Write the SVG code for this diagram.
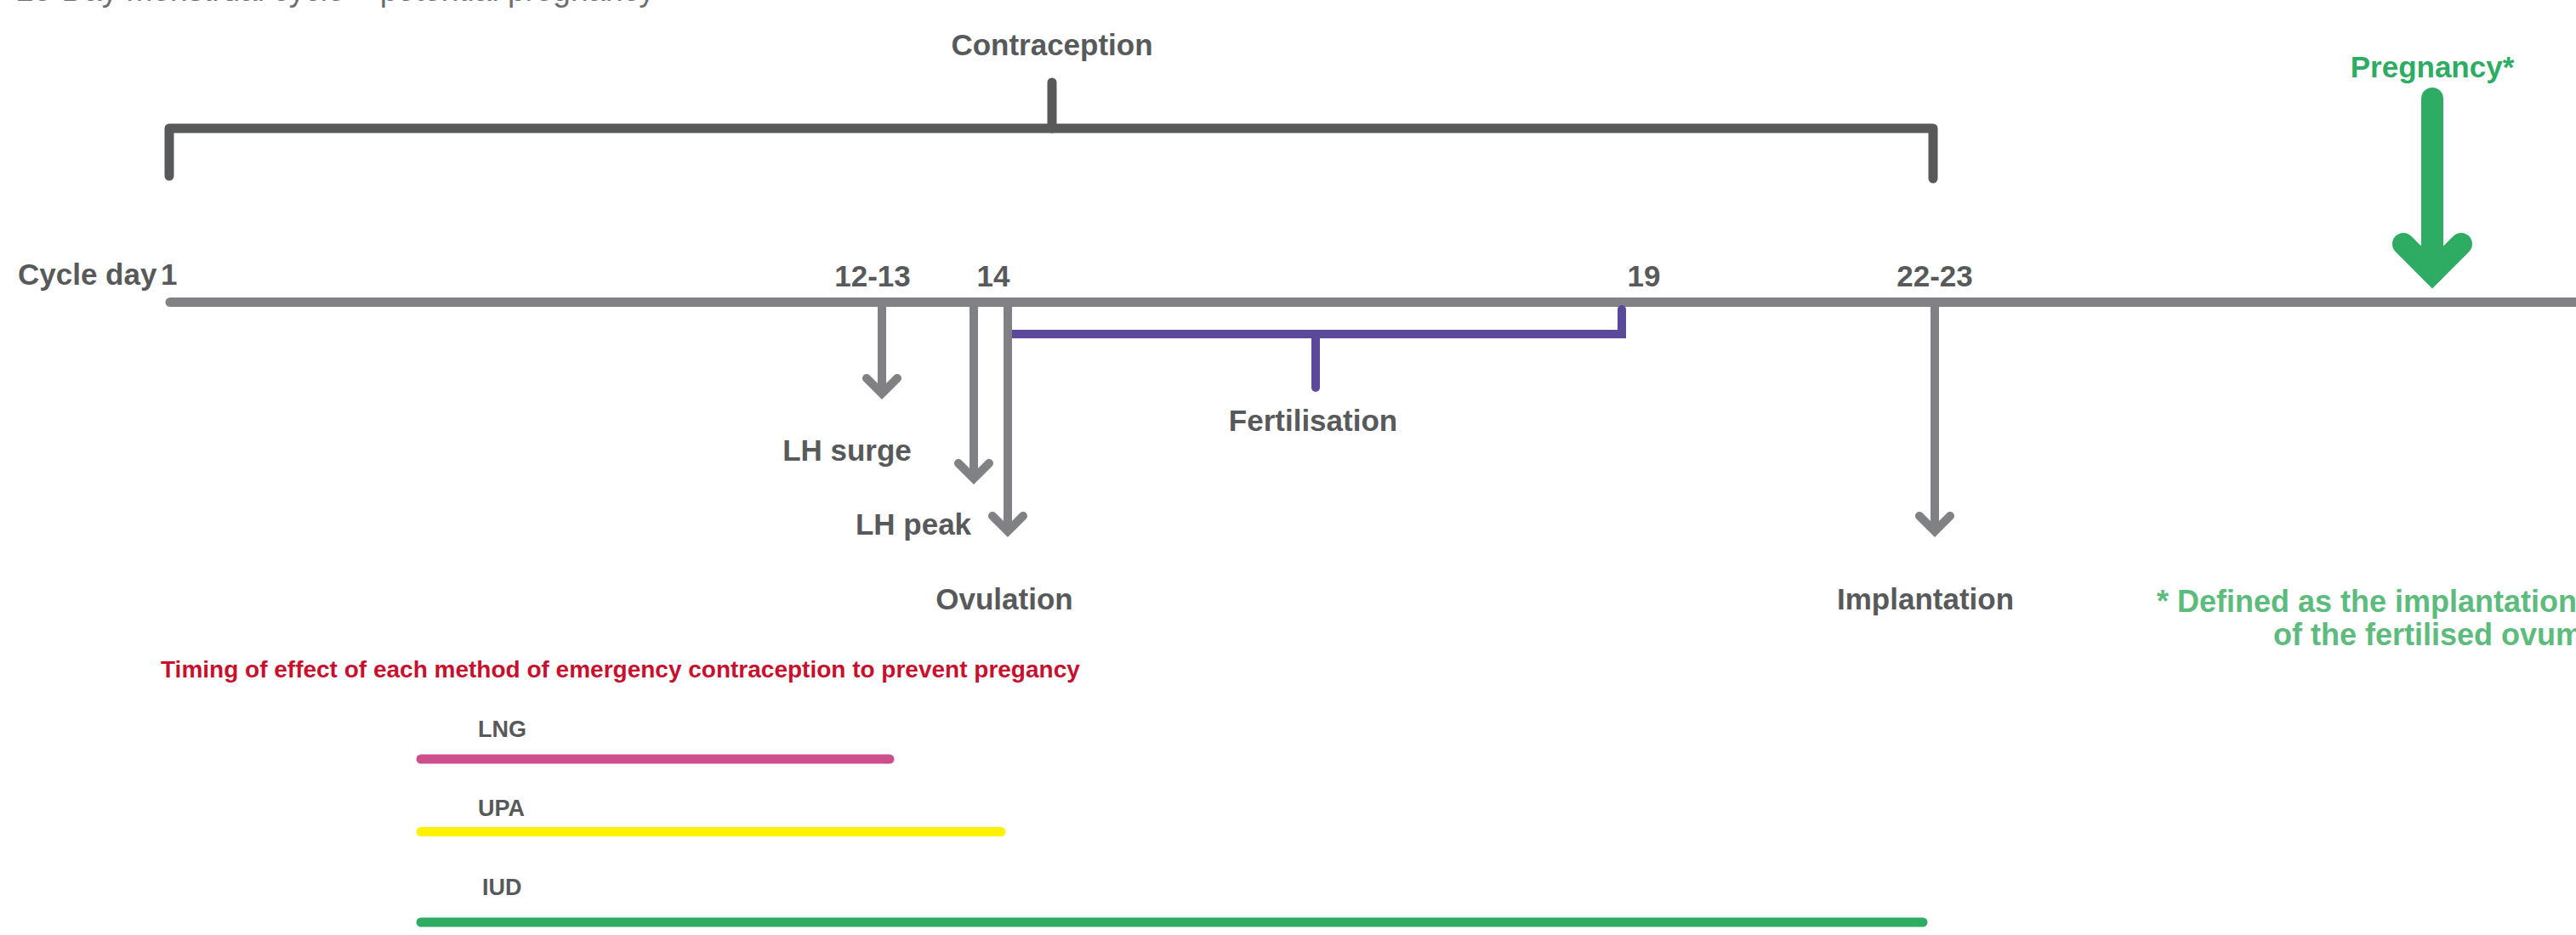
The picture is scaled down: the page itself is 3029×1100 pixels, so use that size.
<svg xmlns="http://www.w3.org/2000/svg" xmlns:xlink="http://www.w3.org/1999/xlink" width="3029" height="1100" viewBox="0 0 3029 1100">
<style>
.t{font-family:"Liberation Sans",Arial,sans-serif;font-weight:bold;font-size:35px;fill:#58595b}
.m{text-anchor:middle}
.g{fill:none;stroke:#808184;stroke-width:10;stroke-linecap:butt}
.gh{fill:none;stroke:#808184;stroke-width:10;stroke-linecap:round;stroke-linejoin:miter}
.br{fill:none;stroke:#58595b;stroke-width:11;stroke-linecap:round;stroke-linejoin:round}
.pu{fill:none;stroke:#5b4899;stroke-width:10;stroke-linecap:round;stroke-linejoin:miter}
.bar{fill:none;stroke-width:11;stroke-linecap:round}
</style>
<defs>
<path id="gh" class="gh" d="M-18,-18 L0,0 L18,-18"/>
</defs>
<rect width="3029" height="1100" fill="#ffffff"/>
<text x="19" y="1" style="font-family:'Liberation Sans',Arial,sans-serif;font-size:37px;fill:#6d6e71">28-Day menstrual cycle – potential pregnancy</text>

<g id="connectors">
  <path id="timeline" d="M200,355.5 H3045" fill="none" stroke="#818285" stroke-width="11" stroke-linecap="round"/>
  <path id="contraception-bracket" class="br" d="M199,207 V151 H2273 V210"/>
  <path class="br" d="M1237,97 V151" stroke-width="10"/>
  <path id="fertilisation-bracket" class="pu" d="M1907,364 V393 H1188"/>
  <path class="pu" d="M1547,393 V456" stroke-width="8"/>
  <g id="arrow-lh-surge"><path class="g" d="M1037,361 V463"/><use xlink:href="#gh" href="#gh" x="1037" y="463"/></g>
  <g id="arrow-lh-peak"><path class="g" d="M1145,361 V563"/><use xlink:href="#gh" href="#gh" x="1145" y="563"/></g>
  <g id="arrow-ovulation"><path class="g" d="M1185,361 V625"/><use xlink:href="#gh" href="#gh" x="1185" y="625"/></g>
  <g id="arrow-implantation"><path class="g" d="M2275,361 V625"/><use xlink:href="#gh" href="#gh" x="2275" y="625"/></g>
  <g id="arrow-pregnancy">
    <path d="M2860,116 V321" fill="none" stroke="#2eac64" stroke-width="26" stroke-linecap="round"/>
    <path d="M2826,287 L2860,321 L2894,287" fill="none" stroke="#2eac64" stroke-width="26" stroke-linecap="round" stroke-linejoin="miter"/>
  </g>
</g>

<g id="contraception"><text class="t m" x="1237" y="65">Contraception</text></g>
<g id="pregnancy"><text class="t m" x="2860" y="91" style="fill:#2eac64">Pregnancy*</text></g>
<g id="cycle-day-1"><text class="t" x="21" y="335">Cycle day</text><text class="t" x="189" y="335">1</text></g>
<g id="day-12-13"><text class="t m" x="1026" y="337">12-13</text></g>
<g id="day-14"><text class="t m" x="1168" y="337">14</text></g>
<g id="day-19"><text class="t m" x="1933" y="337">19</text></g>
<g id="day-22-23"><text class="t m" x="2275" y="337">22-23</text></g>
<g id="lh-surge"><text class="t m" x="996" y="542">LH surge</text></g>
<g id="lh-peak"><text class="t m" x="1074" y="629">LH peak</text></g>
<g id="ovulation"><text class="t m" x="1181" y="717">Ovulation</text></g>
<g id="fertilisation"><text class="t m" x="1544" y="507">Fertilisation</text></g>
<g id="implantation"><text class="t m" x="2264" y="717">Implantation</text></g>
<g id="footnote">
  <text class="t" x="2536" y="720" style="font-size:36px;fill:#5dbb7d">* Defined as the implantation</text>
  <text class="t" x="2673" y="759" style="font-size:36px;fill:#5dbb7d">of the fertilised ovum</text>
</g>

<g id="timing-title"><text class="t" x="189" y="797" style="font-size:28px;fill:#c8102e">Timing of effect of each method of emergency contraception to prevent pregancy</text></g>
<g id="lng">
  <text class="t" x="562" y="867" style="font-size:27px">LNG</text>
  <path class="bar" d="M495,893 H1046" stroke="#cc4e8c"/>
</g>
<g id="upa">
  <text class="t" x="562" y="960" style="font-size:27px">UPA</text>
  <path class="bar" d="M495,978.5 H1177" stroke="#fff100"/>
</g>
<g id="iud">
  <text class="t" x="567" y="1053" style="font-size:27px">IUD</text>
  <path class="bar" d="M495,1085 H2261" stroke="#2eac64"/>
</g>
</svg>
